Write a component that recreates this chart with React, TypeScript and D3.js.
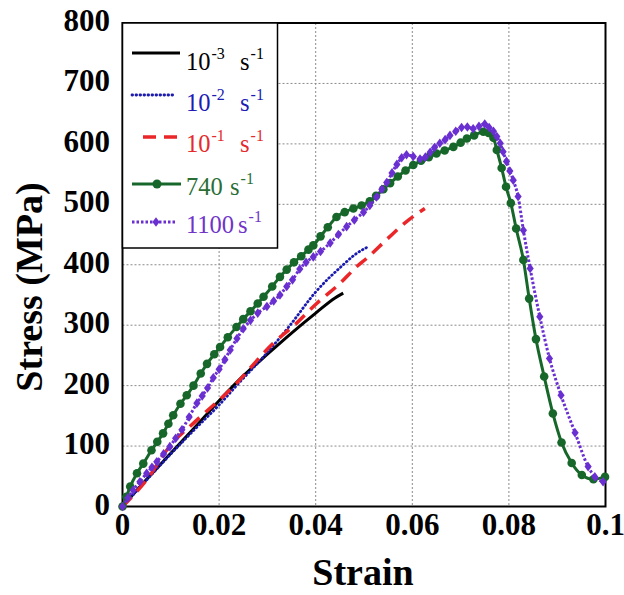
import React from "react";
import * as d3 from "d3";

type P = [number, number];

const xTicks = [0, 0.02, 0.04, 0.06, 0.08, 0.1];
const xTickLabels = ["0", "0.02", "0.04", "0.06", "0.08", "0.1"];
const yTicks = [0, 100, 200, 300, 400, 500, 600, 700, 800];
const yTickLabels = ["0", "100", "200", "300", "400", "500", "600", "700", "800"];

const rate1e3: P[] = [
  [0, 0], [0.005, 45], [0.01, 88], [0.015, 131], [0.02, 175], [0.025, 216],
  [0.03, 252], [0.035, 287], [0.04, 320], [0.044, 345], [0.0457, 353],
];

const rate1e2: P[] = [
  [0, 0], [0.005, 44], [0.01, 87], [0.015, 128], [0.02, 168], [0.0236, 200],
  [0.03, 255], [0.0347, 300], [0.04, 355], [0.0457, 400], [0.048, 416], [0.0509, 430],
];

const rate1e1: P[] = [
  [0, 0], [0.005, 44], [0.0098, 100], [0.015, 140], [0.0229, 198], [0.0312, 270],
  [0.036, 303], [0.0402, 336], [0.045, 369], [0.0485, 397], [0.0506, 411],
  [0.055, 444], [0.0592, 474], [0.0626, 493],
];

const rate740: P[] = [
  [0, 0], [0.0008, 16], [0.0016, 33], [0.003, 55], [0.0043, 71], [0.006, 93],
  [0.0072, 107], [0.0084, 121], [0.0095, 137], [0.0105, 151], [0.012, 170],
  [0.0133, 184], [0.0147, 200], [0.0162, 220], [0.0175, 236], [0.019, 252],
  [0.0202, 264], [0.0218, 280], [0.0236, 297], [0.025, 310], [0.0265, 323],
  [0.028, 336], [0.0292, 347], [0.031, 364], [0.0326, 380], [0.034, 392],
  [0.0355, 404], [0.037, 414], [0.0385, 425], [0.0395, 432], [0.041, 447],
  [0.0425, 462], [0.0443, 479], [0.046, 487], [0.0478, 493], [0.0495, 498],
  [0.0512, 505], [0.0525, 514], [0.054, 525], [0.0554, 535], [0.057, 546],
  [0.0586, 556], [0.0602, 565], [0.0618, 572], [0.0634, 578], [0.065, 584],
  [0.0667, 589], [0.0685, 595], [0.07, 602], [0.0713, 609], [0.0728, 614],
  [0.0747, 620], [0.0758, 618], [0.0768, 610], [0.0775, 590], [0.0785, 560],
  [0.0794, 529], [0.0804, 502], [0.0815, 460], [0.083, 408], [0.0842, 344],
  [0.0856, 277], [0.0873, 215], [0.0891, 154], [0.0909, 106], [0.093, 72],
  [0.0951, 52], [0.0975, 45], [0.0999, 49],
];

const rate1100: P[] = [
  [0, 0], [0.0011, 14], [0.0022, 27], [0.0036, 41], [0.005, 55], [0.0061, 65],
  [0.0071, 74], [0.0085, 87], [0.0098, 99], [0.011, 113], [0.0123, 127],
  [0.0138, 148], [0.0154, 171], [0.0165, 183], [0.0176, 196], [0.0188, 213],
  [0.02, 227], [0.0212, 243], [0.0223, 259], [0.0237, 278], [0.025, 294],
  [0.0265, 308], [0.028, 320], [0.0299, 331], [0.0313, 340], [0.0326, 350],
  [0.034, 364], [0.0352, 375], [0.0367, 393], [0.038, 404], [0.0395, 413],
  [0.041, 422], [0.043, 436], [0.0447, 450], [0.0464, 463], [0.048, 474],
  [0.0499, 487], [0.0512, 498], [0.0526, 512], [0.0537, 525], [0.0547, 536],
  [0.0558, 552], [0.0568, 566], [0.0578, 577], [0.0588, 582], [0.0602, 579],
  [0.0616, 575], [0.0627, 578], [0.0637, 586], [0.0646, 594], [0.0657, 601],
  [0.0668, 607], [0.0678, 614], [0.069, 621], [0.0702, 627], [0.0714, 628],
  [0.0726, 625], [0.0738, 629], [0.075, 633], [0.0759, 627], [0.0768, 621],
  [0.0775, 612], [0.0782, 601], [0.0788, 587], [0.0795, 571], [0.0802, 555],
  [0.0809, 540], [0.0819, 513], [0.083, 457], [0.0844, 394], [0.0864, 314],
  [0.0884, 245], [0.0908, 184], [0.0937, 122], [0.0964, 66], [0.0978, 49],
  [0.0995, 41],
];

const legendBases = ["10", "10", "10", "740", "1100"];
const legendExps = ["-3", "-2", "-1", "", ""];
const legendColors = ["#000000", "#1c1cb4", "#e42a2a", "#2a6e36", "#7034c8"];

const BLACK = "#000000";
const BLUE = "#1a1aae";
const RED = "#ea2629";
const GREEN = "#17672a";
const PURPLE = "#6a2fd0";

const FONT = "'Liberation Serif', 'Times New Roman', serif";

const M = { left: 122.5, top: 23, right: 605.5, bottom: 506.5 };

const diamond = "M0,-4.8L3.6,0L0,4.8L-3.6,0Z";

export default function App() {
  const x = d3.scaleLinear().domain([0, 0.1]).range([M.left, M.right]);
  const y = d3.scaleLinear().domain([0, 800]).range([M.bottom, M.top]);
  const line = d3
    .line<P>()
    .x((d) => x(d[0]))
    .y((d) => y(d[1]))
    .curve(d3.curveMonotoneX);

  const lineRowsY = [53, 95, 137, 184, 222];
  const textRowsY = [70, 111, 152, 195, 233];
  const sX = [240, 240, 240, 230, 238];

  return (
    <svg
      width={624}
      height={595}
      style={{ position: "absolute", left: 0, top: 0, background: "#fff" }}
      fontFamily={FONT}
    >
      <rect x={0} y={0} width={624} height={595} fill="#fff" />
      {/* grid */}
      {xTicks.slice(1, -1).map((t) => (
        <line key={"gx" + t} x1={x(t)} x2={x(t)} y1={M.top} y2={M.bottom}
          stroke="#8a8a8a" strokeWidth={1} strokeDasharray="2,2" />
      ))}
      {yTicks.slice(1, -1).map((t) => (
        <line key={"gy" + t} x1={M.left} x2={M.right} y1={y(t)} y2={y(t)}
          stroke="#8a8a8a" strokeWidth={1} strokeDasharray="2,2" />
      ))}
      {/* frame */}
      <rect x={M.left} y={M.top} width={M.right - M.left} height={M.bottom - M.top}
        fill="none" stroke="#000" strokeWidth={2} />

      {/* tick labels */}
      {xTicks.map((t, i) => (
        <text key={"xl" + t} x={x(t)} y={535} textAnchor="middle" fontSize={31}
          fontWeight="bold">{xTickLabels[i]}</text>
      ))}
      {yTicks.map((t, i) => (
        <text key={"yl" + t} x={110} y={y(t) + 8} textAnchor="end" fontSize={31}
          fontWeight="bold">{yTickLabels[i]}</text>
      ))}
      <text x={363} y={585} textAnchor="middle" fontSize={38} fontWeight="bold">Strain</text>
      <text transform="translate(42,287) rotate(-90)" textAnchor="middle" fontSize={38}
        fontWeight="bold">Stress (MPa)</text>

      {/* series */}
      <path d={line(rate1e3) || ""} fill="none" stroke={BLACK} strokeWidth={3} />
      <path d={line(rate1e2) || ""} fill="none" stroke={BLUE} strokeWidth={2.8}
        strokeDasharray="0.6,3.4" strokeLinecap="round" />
      <path d={line(rate1e1) || ""} fill="none" stroke={RED} strokeWidth={3.5}
        strokeDasharray="13,8" />
      <path d={line(rate740) || ""} fill="none" stroke={GREEN} strokeWidth={3} />
      {rate740.map((d, i) => (
        <circle key={"g" + i} cx={x(d[0])} cy={y(d[1])} r={4.3} fill={GREEN} />
      ))}
      <path d={line(rate1100) || ""} fill="none" stroke={PURPLE} strokeWidth={3}
        strokeDasharray="2.5,2" />
      {rate1100.map((d, i) => (
        <path key={"p" + i} d={diamond} transform={`translate(${x(d[0])},${y(d[1])})`}
          fill={PURPLE} />
      ))}

      {/* legend */}
      <rect x={M.left} y={M.top} width={155} height={225} fill="#fff" stroke="#000"
        strokeWidth={1.5} />
      <line x1={132} x2={180} y1={lineRowsY[0]} y2={lineRowsY[0]} stroke={BLACK} strokeWidth={3} />
      <line x1={132} x2={176} y1={lineRowsY[1]} y2={lineRowsY[1]} stroke={BLUE} strokeWidth={2.8}
        strokeDasharray="0.6,3.4" strokeLinecap="round" />
      <line x1={143} x2={178} y1={lineRowsY[2]} y2={lineRowsY[2]} stroke={RED} strokeWidth={3.5}
        strokeDasharray="13,8" />
      <line x1={132} x2={181} y1={lineRowsY[3]} y2={lineRowsY[3]} stroke={GREEN} strokeWidth={3} />
      <circle cx={157} cy={lineRowsY[3]} r={4.5} fill={GREEN} />
      <line x1={132} x2={177} y1={lineRowsY[4]} y2={lineRowsY[4]} stroke={PURPLE} strokeWidth={3}
        strokeDasharray="2.5,2" />
      <path d={diamond} transform={`translate(156,${lineRowsY[4]})`} fill={PURPLE} />

      {legendBases.map((b, i) => {
        const hasExp = legendExps[i] !== "";
        return (
          <text key={"lg" + i} x={186} y={textRowsY[i]} fontSize={24.5} fill={legendColors[i]}>
            <tspan>{b}</tspan>
            {hasExp && (
              <tspan dx={1} dy={-11} fontSize={16}>{legendExps[i]}</tspan>
            )}
            <tspan x={sX[i]} y={textRowsY[i]}>s</tspan>
            <tspan dx={1} dy={-11} fontSize={16}>-1</tspan>
          </text>
        );
      })}
    </svg>
  );
}
